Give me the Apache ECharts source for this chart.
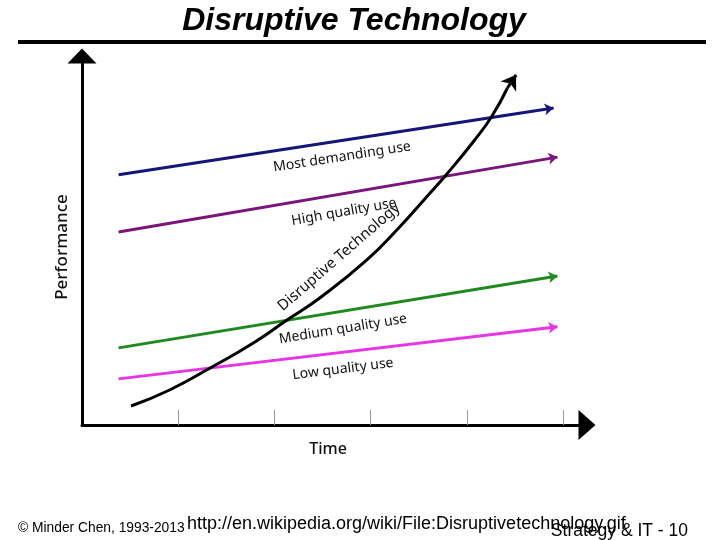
<!DOCTYPE html>
<html>
<head>
<meta charset="utf-8">
<script src="https://cdn.jsdelivr.net/npm/echarts@6/dist/echarts.min.js"></script>
<style>html,body{margin:0;padding:0;background:#fff;}#c{width:720px;height:540px;}</style>
</head>
<body>
<div id="c"></div>
<script>
// ---- data (time units on x, performance on y) ----
const timeTicks = [1, 2, 3, 4, 5];
const mostDemanding = [[0.38, 67.8], [4.9, 85.9]];
const highQuality   = [[0.38, 52.3], [4.94, 72.6]];
const mediumQuality = [[0.38, 20.9], [4.94, 40.4]];
const lowQuality    = [[0.38, 12.5], [4.94, 26.6]];
const disruptive = [
  [0.51, 5.15], [0.91, 9.49], [1.35, 15.72], [1.78, 22.22], [2.13, 28.46],
  [2.47, 34.42], [2.96, 44.72], [3.30, 53.66], [3.58, 61.79], [3.80, 68.29],
  [4.08, 77.24], [4.26, 83.74], [4.42, 91.33]
];
const disruptiveHead = [[4.42, 91.33], [4.51, 94.9]];
const labels = {
  most: 'Most demanding use',
  high: 'High quality use',
  medium: 'Medium quality use',
  low: 'Low quality use',
  disruptive: 'Disruptive Technology'
};

const chart = echarts.init(document.getElementById('c'), null, {renderer: 'canvas'});
const lineFont = '14px "Noto Sans", sans-serif';
function straight(data, color) {
  return {
    type: 'lines', coordinateSystem: 'cartesian2d', polyline: false,
    symbol: ['none', 'arrow'], symbolSize: 9, silent: true,
    lineStyle: {color: color, width: 3, opacity: 1},
    data: [{coords: data}], z: 3
  };
}
chart.setOption({
  animation: false,
  backgroundColor: '#fff',
  grid: {left: 82, right: 133, top: 56, bottom: 115},
  xAxis: {
    type: 'value', min: 0, max: 5.247, interval: 1,
    axisLine: {show: true, symbol: ['none', 'triangle'], symbolSize: [30, 17],
      lineStyle: {color: '#000', width: 3}},
    axisTick: {show: true, inside: true, length: 15, customValues: timeTicks,
      lineStyle: {color: '#9a9a9a', width: 1}},
    axisLabel: {show: false}, splitLine: {show: false}
  },
  yAxis: {
    type: 'value', min: 0, max: 100,
    axisLine: {show: true, symbol: ['none', 'triangle'], symbolSize: [29, 15],
      lineStyle: {color: '#000', width: 3}},
    axisTick: {show: false}, axisLabel: {show: false}, splitLine: {show: false}
  },
  series: [
    straight(mostDemanding, '#15157a'),
    straight(highQuality, '#7a157a'),
    straight(mediumQuality, '#1f8a1f'),
    straight(lowQuality, '#e635e6'),
    {
      type: 'line', data: disruptive, smooth: 0.5, symbol: 'none', silent: true,
      lineStyle: {color: '#000', width: 3}, z: 4
    },
    {
      type: 'lines', coordinateSystem: 'cartesian2d', symbol: ['none', 'arrow'],
      symbolSize: 14, silent: true, lineStyle: {color: '#000', width: 3, opacity: 1},
      data: [{coords: disruptiveHead}], z: 4
    }
  ],
  graphic: [
    {type: 'text', x: 354, y: 21, style: {text: 'Disruptive Technology',
      font: 'italic bold 32px "Liberation Sans", Arial, sans-serif', fill: '#000',
      textAlign: 'center', textVerticalAlign: 'middle'}},
    {type: 'line', shape: {x1: 18, y1: 42, x2: 706, y2: 42}, style: {stroke: '#000', lineWidth: 4}},
    {type: 'text', x: 62, y: 247, rotation: Math.PI / 2, style: {text: 'Performance',
      font: '500 17px "Noto Sans", sans-serif', fill: '#111', textAlign: 'center', textVerticalAlign: 'middle'}},
    {type: 'text', x: 328, y: 449, style: {text: 'Time',
      font: '500 16px "Noto Sans", sans-serif', fill: '#111', textAlign: 'center', textVerticalAlign: 'middle'}},
    {type: 'text', x: 342, y: 157, rotation: 8.8 * Math.PI / 180, style: {text: labels.most,
      font: lineFont, fill: '#111', textAlign: 'center', textVerticalAlign: 'middle'}},
    {type: 'text', x: 344, y: 212, rotation: 10 * Math.PI / 180, style: {text: labels.high,
      font: lineFont, fill: '#111', textAlign: 'center', textVerticalAlign: 'middle'}},
    {type: 'text', x: 343, y: 329, rotation: 9.3 * Math.PI / 180, style: {text: labels.medium,
      font: lineFont, fill: '#111', textAlign: 'center', textVerticalAlign: 'middle'}},
    {type: 'text', x: 343, y: 369, rotation: 7 * Math.PI / 180, style: {text: labels.low,
      font: lineFont, fill: '#111', textAlign: 'center', textVerticalAlign: 'middle'}},
    {type: 'text', x: 339, y: 257, rotation: 41 * Math.PI / 180, style: {text: labels.disruptive,
      font: '15px "Noto Sans", sans-serif', fill: '#111', textAlign: 'center', textVerticalAlign: 'middle'}},
    {type: 'text', x: 18, y: 528, style: {text: '\u00a9 Minder Chen, 1993-2013',
      font: '13.8px "Liberation Sans", Arial, sans-serif', fill: '#000', textAlign: 'left', textVerticalAlign: 'middle'}},
    {type: 'text', x: 187, y: 524, style: {text: 'http://en.wikipedia.org/wiki/File:Disruptivetechnology.gif',
      font: '18px "Liberation Sans", Arial, sans-serif', fill: '#000', textAlign: 'left', textVerticalAlign: 'middle'}},
    {type: 'text', x: 688, y: 531, style: {text: 'Strategy & IT - 10',
      font: '17.5px "Liberation Sans", Arial, sans-serif', fill: '#000', textAlign: 'right', textVerticalAlign: 'middle'}}
  ]
});
</script>
</body>
</html>
